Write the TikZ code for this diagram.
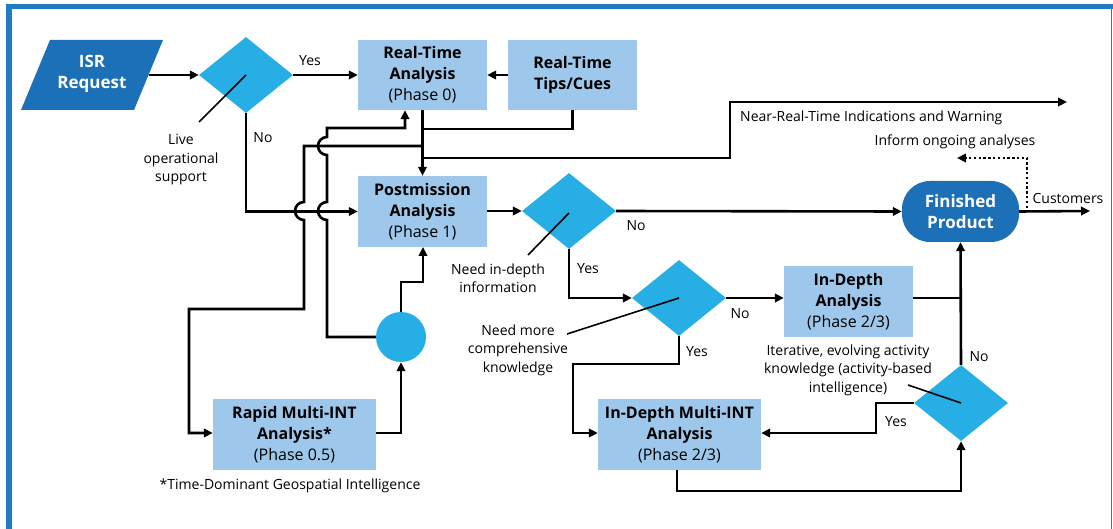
\documentclass[tikz,border=0pt]{standalone}
\usepackage{fontspec}
\setmainfont{Open Sans}
\usetikzlibrary{shapes.geometric,arrows.meta}
\definecolor{dkblue}{HTML}{1B70B7}
\definecolor{ltblue}{HTML}{9DC8EB}
\definecolor{cyanb}{HTML}{27AFE5}
\definecolor{frameblue}{HTML}{1E7BC6}
\begin{document}
\begin{tikzpicture}[x=1pt,y=-1pt,
  box/.style={fill=ltblue, minimum width=129pt, minimum height=70pt, inner sep=0pt, align=center, font=\fontsize{16}{21}\selectfont},
  widebox/.style={box, minimum width=163pt, minimum height=71pt},
  dec/.style={diamond, fill=cyanb, minimum width=94pt, minimum height=76pt, inner sep=0pt},
  conn/.style={line width=2.6pt},
  arr/.style={conn, -{Triangle[length=9pt,width=8.5pt]}},
  lead/.style={line width=1.6pt},
  lbl/.style={font=\fontsize{14}{18.5}\selectfont, align=center, inner sep=0pt},
  wtxt/.style={text=white, align=center, inner sep=0pt, font=\bfseries\fontsize{17}{21}\selectfont},
]
\useasboundingbox (0,0) rectangle (1113,529);
% frame
\fill[frameblue] (6,4) rectangle (1113,9);
\fill[frameblue] (6,4) rectangle (12,529);
\draw[frameblue, line width=1.5pt] (1111.5,4) -- (1111.5,529);

% ISR request parallelogram
\fill[dkblue] (50,40) -- (163,40) -- (134,110) -- (21,110) -- cycle;
\node[wtxt] (isr) at (92,74) {ISR\\Request};
\coordinate (isrE) at (148.5,75);

% nodes
\node[dec] (d1) at (246,75) {};
\node[box] (rta) at (422.5,75) {\textbf{Real-Time}\\\textbf{Analysis}\\(Phase 0)};
\node[box] (tips) at (572.5,75) {\textbf{Real-Time}\\\textbf{Tips/Cues}};
\node[box, minimum height=71pt] (pm) at (422.5,211.5) {\textbf{Postmission}\\\textbf{Analysis}\\(Phase 1)};
\node[dec] (d2) at (569,211) {};
\node[fill=dkblue, rounded corners=28pt, minimum width=117pt, minimum height=61pt, wtxt] (fp) at (960.5,211.5) {Finished\\Product};
\node[dec] (d3) at (679,298) {};
\node[box, minimum height=71pt] (ida) at (848.5,301.5) {\textbf{In-Depth}\\\textbf{Analysis}\\(Phase 2/3)};
\node[widebox] (rmi) at (294.5,434.5) {\textbf{Rapid Multi-INT}\\\textbf{Analysis*}\\(Phase 0.5)};
\node[circle, fill=cyanb, minimum size=50pt, inner sep=0pt] (circ) at (401,337) {};
\node[widebox] (idm) at (679.5,434.5) {\textbf{In-Depth Multi-INT}\\\textbf{Analysis}\\(Phase 2/3)};
\node[dec] (d4) at (961,403) {};

% coordinates for junctions / free ends
\coordinate (j1) at (423,129);
\coordinate (j2) at (423,146);
\coordinate (j3) at (423,158);
\coordinate (a405) at (405,128);
\coordinate (nrt) at (1067,102);
\coordinate (cust) at (1090,211);
\coordinate (inf) at (957,158);
\coordinate (dots) at (1027,208);
\coordinate (jida) at (960,298);

% leader lines
\draw[lead] (d1.center) -- (199,122);
\draw[lead] (569,213) -- (528,255);
\draw[lead] (d3.center) -- (567,334);
\draw[lead] (d4.center) -- (908,385);

% connectors
\draw[arr] (isrE) -- (d1.west);
\draw[arr] (d1.east) -- (rta.west);
\draw[arr] (tips.west) -- (rta.east);
\draw[arr] (rta.south) -- (pm.north);
\draw[conn] (tips.south) |- (j1);
\draw[arr] (d1.south) |- (pm.west);
% line B to rapid multi-INT (hop over No line)
\draw[arr] (j2) -- (304,146) -- (304,202) arc[start angle=90, end angle=270, radius=9pt] -- (304,309) -- (189,309) -- (189,433) -- (rmi.west |- 0,433);
% line A from junction circle to RTA (two hops)
\draw[arr] (circ.west) -- (327,337) -- (327,220) arc[start angle=270, end angle=90, radius=9pt] -- (327,155) arc[start angle=270, end angle=90, radius=9pt] -- (327,128) -- (a405) -- (a405 |- rta.south);
\draw[arr] (rmi.east |- 0,433) -| (circ.south);
\draw[arr] (circ.north) -- (401,282) -- (423,282) -- (423,247);
% near-real-time
\draw[arr] (j3) -- (730,158) -- (730,102) -- (nrt);
\draw[arr] (pm.east |- d2.west) -- (d2.west);
\draw[arr] (d2.east) -- (fp.west);
\draw[arr] (d2.south) |- (d3.west);
\draw[arr] (d3.east) -- (ida.west |- d3.east);
\draw[conn] (ida.east |- jida) -- (jida);
\draw[arr] (d4.north) -- (fp.south);
\draw[arr] (d3.south) -- (679,364) -- (573,364) |- (idm.west |- 0,433);
\draw[arr] (677,470) -- (677,491) -| (d4.south);
\draw[arr] (d4.west) -- (876,403) |- (idm.east |- 0,433);
\draw[arr] (fp.east) -- (cust);
\draw[line width=2.6pt, dash pattern=on 2.4pt off 2.4pt, -{Triangle[length=9pt,width=8.5pt]}] (dots) |- (inf);

% labels
\node[lbl] (lyes1) at (310,61) {Yes};
\node[lbl] (lno1) at (263,138) {No};
\node[lbl] (llive) at (181,160) {Live\\operational\\support};
\node[lbl] (lno2) at (636,226) {No};
\node[lbl] (lyes2) at (588,269) {Yes};
\node[lbl] (lneed1) at (498,278) {Need in-depth\\information};
\node[lbl] (lneed2) at (518,350) {Need more\\comprehensive\\knowledge};
\node[lbl] (lno3) at (740,314) {No};
\node[lbl] (lyes3) at (697,352) {Yes};
\node[lbl] (lno4) at (979,357) {No};
\node[lbl] (lyes4) at (896,422) {Yes};
\node[lbl] (liter) at (848,370) {Iterative, evolving activity\\knowledge (activity-based\\intelligence)};
\node[lbl] (lfoot) at (290,486) {*Time-Dominant Geospatial Intelligence};
\node[lbl, anchor=west] (lnrt) at (740,118) {Near-Real-Time Indications and Warning};
\node[lbl] (linf) at (955,142) {Inform ongoing analyses};
\node[lbl] (lcust) at (1068,199) {Customers};
\end{tikzpicture}
\end{document}
